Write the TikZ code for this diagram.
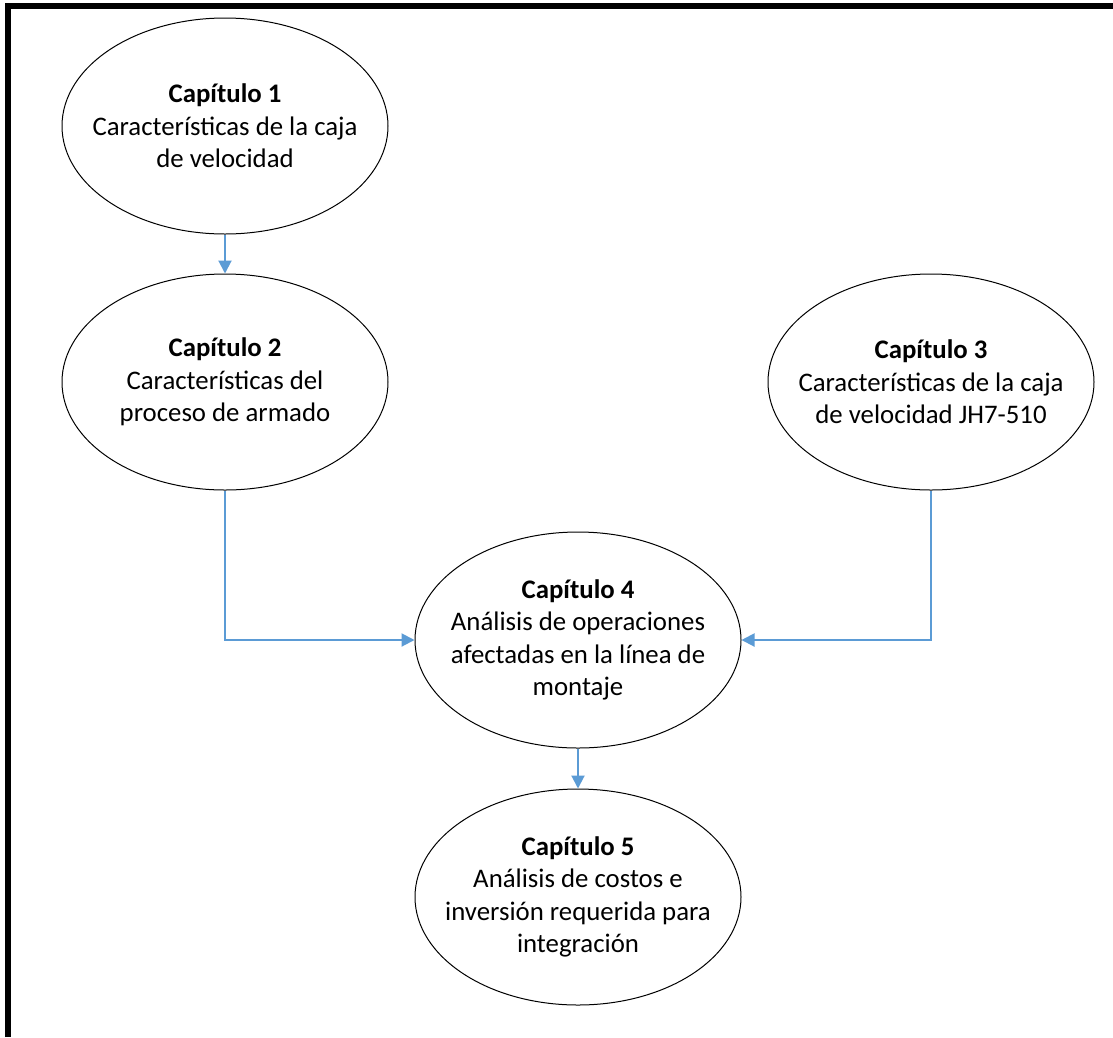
\documentclass[tikz,border=0pt]{standalone}
\usepackage{fontspec}
\setmainfont{Carlito}
\usetikzlibrary{shapes.geometric,arrows.meta}
\definecolor{arrowblue}{HTML}{5B9BD5}
\begin{document}
\begin{tikzpicture}[x=1pt,y=-1pt,
  chap/.style={ellipse,draw=black,line width=1pt,minimum width=326pt,minimum height=216pt,inner xsep=-30pt,inner ysep=-20pt,align=center,font=\fontsize{26.8}{32.5}\selectfont},
  conn/.style={draw=arrowblue,line width=2pt,-{Triangle[length=13pt,width=13pt]}}]
\useasboundingbox (0,0) rectangle (1113,1037);
\fill[white] (0,0) rectangle (1113,1037);
\draw[line width=6pt] (8,1037) -- (8,6) -- (1113,6);
\node[chap] (c1) at (225,126) {\textbf{Capítulo 1}\\Características de la caja\\de velocidad};
\node[chap] (c2) at (225,382) {\textbf{Capítulo 2}\\Características del\\proceso de armado};
\node[chap] (c3) at (931,382) {\textbf{Capítulo 3}\\Características de la caja\\de velocidad JH7-510};
\node[chap] (c4) at (578,640) {\textbf{Capítulo 4}\\Análisis de operaciones\\afectadas en la línea de\\montaje};
\node[chap] (c5) at (578,897) {\textbf{Capítulo 5}\\Análisis de costos e\\inversión requerida para\\integración};
\draw[conn] (c1.south) -- (c2.north);
\draw[conn] (c2.south) |- (c4.west);
\draw[conn] (c3.south) |- (c4.east);
\draw[conn] (c4.south) -- (c5.north);
\end{tikzpicture}
\end{document}
